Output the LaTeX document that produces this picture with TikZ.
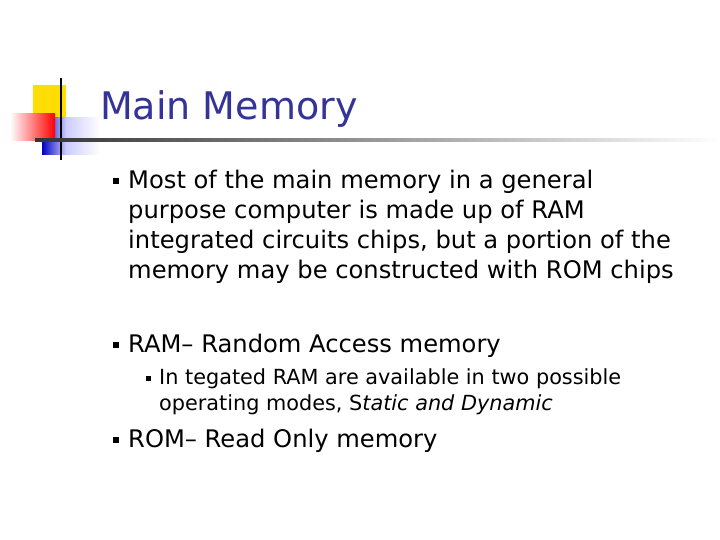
\documentclass[tikz,border=0pt]{standalone}
\usepackage{fontspec}
\setmainfont{DejaVu Sans}
\definecolor{ttl}{RGB}{51,51,153}
\begin{document}
\begin{tikzpicture}[x=1pt,y=-1pt,
  txt/.style={anchor=base west,inner sep=0pt,font=\fontsize{24.2}{30}\selectfont,align=left},
  sub/.style={anchor=base west,inner sep=0pt,font=\fontsize{20.8}{26}\selectfont,align=left},
  bul/.style={fill=black,minimum size=6pt,inner sep=0pt}]
\useasboundingbox (0,0) rectangle (720,540);
\fill[white] (0,0) rectangle (720,540);
% logo
\fill[yellow!80!orange] (33,85) rectangle (66,118);
\shade[left color=blue!20!white,right color=white] (66,118) rectangle (100,155);
\shade[left color=blue!75!black,right color=blue!20!white] (42,118) rectangle (66,155);
\shade[left color=white,right color=red] (10,114) rectangle (55,141);
\draw[line width=2pt] (61,78) -- (61,160);
\shade[left color=black!80,right color=white] (35,139) rectangle (720,142);
\node[anchor=base west,inner sep=0pt,text=ttl,font=\fontsize{38}{44}\selectfont] (title) at (100,120) {Main Memory};
\node[bul] (b1) at (116,181) {};
\node[txt] (t1) at (128,278) {Most of the main memory in a general\\purpose computer is made up of RAM\\integrated circuits chips, but a portion of the\\memory may be constructed with ROM chips};
\node[bul] (b2) at (116,345) {};
\node[txt] (t2) at (128,352) {RAM– Random Access memory};
\node[bul,minimum size=5pt] (b3) at (148,378) {};
\node[sub] (t3) at (159,410) {In tegated RAM are available in two possible\\operating modes, S\textit{tatic and Dynamic}};
\node[bul] (b4) at (116,440) {};
\node[txt] (t4) at (128,447) {ROM– Read Only memory};
\end{tikzpicture}
\end{document}
